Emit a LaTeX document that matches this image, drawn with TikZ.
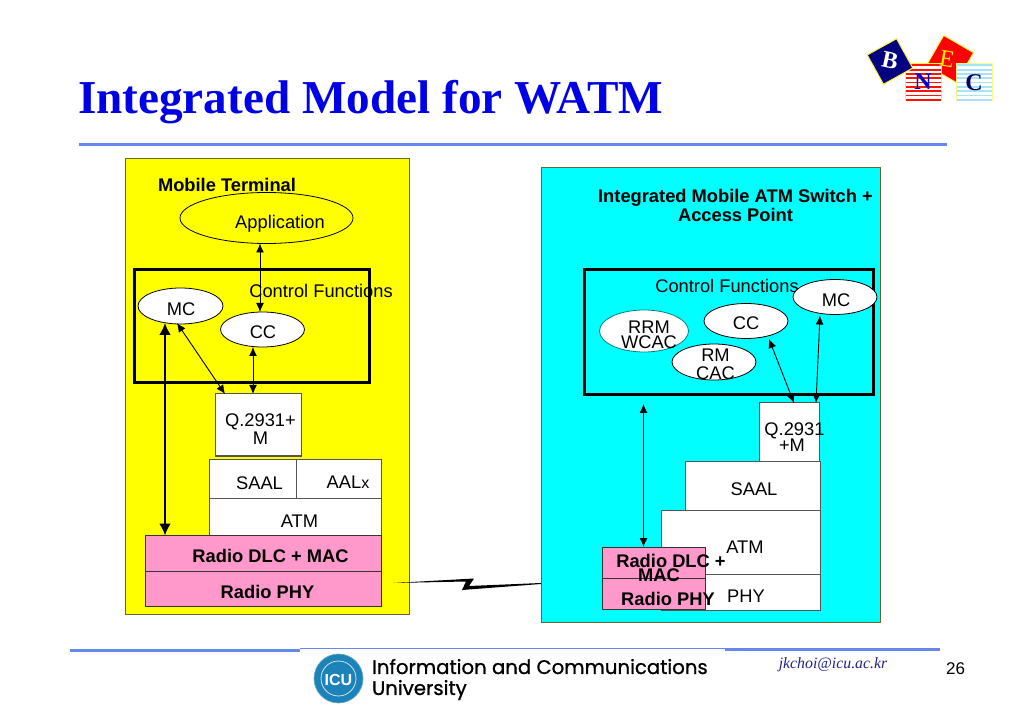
\documentclass[tikz,border=0pt]{standalone}
\usepackage{fontspec}
\setmainfont{Liberation Sans}
\newfontfamily\serifbf{Liberation Serif}
\newfontfamily\univf[FakeBold=1]{Poppins}
\usetikzlibrary{arrows.meta,calc,shapes.geometric}
\definecolor{rulecol}{HTML}{6688EE}
\definecolor{titleblue}{HTML}{0000E6}
\definecolor{pinkc}{HTML}{FF99CC}
\definecolor{cyanc}{HTML}{00FFFF}
\definecolor{yellowc}{HTML}{FFFF00}
\definecolor{framec}{HTML}{666633}
\definecolor{edgec}{HTML}{555555}
\definecolor{icub}{HTML}{1C82B8}
\definecolor{mailc}{HTML}{22228C}
\tikzset{
 every node/.style={inner sep=0pt,outer sep=0pt},
 txt/.style={font=\fontsize{18.3}{18.3}\selectfont,align=center,text=black},
 btxt/.style={font=\fontsize{18.3}{18.3}\selectfont\bfseries,align=center,text=black},
 panel/.style={draw=framec,line width=1pt,anchor=north west},
 ctrl/.style={draw=black,line width=3pt,anchor=north west},
 lay/.style={draw=edgec,fill=white,line width=1pt,anchor=north west},
 rad/.style={draw=black!80,fill=pinkc,line width=1pt,anchor=north west},
 ell/.style={draw=black,fill=white,ellipse,line width=.8pt},
 link/.style={draw=black,line width=.9pt,{Latex[length=9pt,width=8pt]}-{Latex[length=9pt,width=8pt]}},
 fatlink/.style={draw=black,line width=2.8pt,{Latex[length=12pt,width=12pt]}-{Latex[length=12pt,width=12pt]}},
 hr/.style={draw=rulecol,line width=3pt},
 sq/.style={minimum width=36pt,minimum height=37pt,line width=1pt},
 blockl/.style={font=\fontsize{24}{24}\selectfont\bfseries\serifbf},
}
\begin{document}
\begin{tikzpicture}[x=1pt,y=-1pt]
\useasboundingbox[fill=white] (0,0) rectangle (1023,708);
% header
\node[anchor=west,font=\fontsize{47.2}{47.2}\selectfont\bfseries\serifbf,text=titleblue] (title) at (78,102.5) {Integrated Model for WATM};
\coordinate (hl) at (79,145); \coordinate (hr) at (946.5,145);
\draw[hr] (hl) -- (hr);
% BNEC logo
\node[draw=yellow!70!white,fill=red,rotate=-30,minimum size=34.5pt,line width=1pt] (E) at (950,59) {};
\node[sq,draw=yellow!80!white,fill=white] (N) at (923.5,81.7) {};
\foreach \yy in {0,...,8}{\fill[red!85!orange] (906,{64.5+\yy*4.3}) rectangle (941,{66.3+\yy*4.3});}
\node[sq,draw=yellow!50!white,fill=white] (C) at (974.5,81.7) {};
\foreach \yy in {0,...,8}{\fill[cyan!35!white] (957,{64.5+\yy*4.3}) rectangle (992,{66.3+\yy*4.3});}
\node[draw=yellow!80!white,fill=blue!50!black,rotate=29,minimum size=33.5pt,line width=1pt] (B) at (890,61.5) {};
\node[blockl,text=white,rotate=-12] (Bt) at (890,61) {B};
\node[font=\fontsize{24}{24}\selectfont\serifbf,text=yellow,rotate=-10] (Et) at (947,59) {E};
\node[blockl,text=blue!85!black] (Nt) at (923,82) {N};
\node[blockl,text=blue!40!black] (Ct) at (974,83) {C};
% left panel
\node[panel,fill=yellowc,minimum width=284pt,minimum height=456pt] (leftp) at (125.5,158.5) {};
\node[btxt] (mt) at (227,184.5) {Mobile Terminal};
\node[ell,fill=yellowc,minimum width=173pt,minimum height=51pt] (app) at (266.5,218) {};
\node[txt] (appt) at (280,223.5) {Application};
\node[ctrl,minimum width=235pt,minimum height=112.5pt] (cfl) at (134,270) {};
\node[txt] (cflt) at (321,291) {Control Functions};
\node[ell,minimum width=85pt,minimum height=36pt] (mcl) at (180.5,306) {};
\node[txt] (mclt) at (181,309) {MC};
\node[ell,minimum width=84pt,minimum height=35pt] (ccl) at (262.5,329.5) {};
\node[txt] (cclt) at (263,332.5) {CC};
\node[lay,minimum width=86pt,minimum height=62pt] (ql) at (215,394) {};
\node[txt] (qlt) at (260.5,429) {Q.2931+\\[0pt]M};
\node[lay,minimum width=87pt,minimum height=39pt] (saall) at (209,459) {};
\node[txt] (saallt) at (259.5,483.5) {SAAL};
\node[lay,minimum width=85pt,minimum height=39pt] (aal) at (296,459) {};
\node[txt] (aalt) at (348,482) {AAL{\fontsize{16}{16}\selectfont x}};
\node[lay,minimum width=172pt,minimum height=37pt] (atml) at (209,498) {};
\node[txt] (atmlt) at (299.5,521.5) {ATM};
\node[rad,minimum width=236pt,minimum height=36pt] (dlcl) at (145,535.5) {};
\node[btxt] (dlclt) at (270.5,556) {Radio DLC + MAC};
\node[rad,minimum width=236pt,minimum height=35pt] (phyl) at (145,571.5) {};
\node[btxt] (phylt) at (267.5,591.5) {Radio PHY};
% right panel
\node[panel,fill=cyanc,minimum width=339pt,minimum height=454pt] (rightp) at (541.5,168) {};
\node[btxt] (it) at (735.5,205.5) {Integrated Mobile ATM Switch +\\[1pt]Access Point};
\node[ctrl,minimum width=289.5pt,minimum height=125pt] (cfr) at (584,270) {};
\node[txt] (cfrt) at (727,285.5) {Control Functions};
\node[ell,minimum width=84pt,minimum height=35pt] (mcr) at (835,297) {};
\node[txt] (mcrt) at (836,300) {MC};
\node[ell,minimum width=84pt,minimum height=35pt] (ccr) at (746,321) {};
\node[txt] (ccrt) at (746,323) {CC};
\node[ell,draw=teal,minimum width=89pt,minimum height=42pt] (rrm) at (644,331) {};
\node[txt] (rrmt) at (649,335) {RRM\\[-3.5pt]WCAC};
\node[ell,minimum width=84pt,minimum height=36pt] (rm) at (714,362) {};
\node[txt] (rmt) at (715.5,364.5) {RM\\[0pt]CAC};
\node[lay,minimum width=60pt,minimum height=58pt] (qr) at (759.5,403) {};
\node[txt] (qrt) at (794.5,437) {Q.2931\\[-2.5pt]\hspace*{-5pt}+M};
\node[lay,minimum width=135pt,minimum height=49pt] (saalr) at (685,461) {};
\node[txt] (saalrt) at (754,489) {SAAL};
\node[lay,minimum width=159pt,minimum height=64pt] (atmr) at (661,510) {};
\node[txt] (atmrt) at (745,547) {ATM};
\node[lay,minimum width=159pt,minimum height=36pt] (phyr) at (661,574) {};
\node[txt] (phyrt) at (746,596.5) {PHY};
\node[rad,minimum width=103pt,minimum height=31pt] (dlcr) at (602,547) {};
\node[rad,minimum width=103pt,minimum height=31pt] (radr) at (602,578) {};
\node[btxt] (dlcrt) at (671,568) {Radio DLC +\\[-4.3pt]MAC\hspace*{24pt}};
\node[btxt] (radrt) at (668,598.5) {Radio PHY};
% connectors
\draw[link] ($(app.south)+(-6.5,0)$) -- ($(ccl.north)+(-2.5,0)$);
\draw[link] ($(mcl.south)+(-3.5,-1)$) -- ($(ql.north)+(-33,0)$);
\draw[link] ($(ccl.south)+(-9.5,0)$) -- ($(ql.north)+(-5,0)$);
\draw[fatlink] ($(mcl.south)+(-15.5,-1)$) -- ($(dlcl.north west)+(20,0)$);
\draw[link] ($(cfr.south west)+(59.5,9)$) -- ($(dlcr.north west)+(41.5,0)$);
\draw[link] ($(ccr.south)+(23,0.5)$) -- ($(qr.north west)+(34.5,0)$);
\draw[link] ($(mcr.south)+(-15,1)$) -- ($(qr.north west)+(56.5,0)$);
% radio link
\coordinate (zl) at (393,583); \coordinate (zr) at (541,583);
\fill[black] (zl) -- (474,578.5) -- (469,586) -- (zr) -- (541,584) -- (462,590) -- (466,581.5) -- cycle;
% footer
\coordinate (fa) at (70,650); \coordinate (fb) at (300,650); \coordinate (fc) at (725,649); \coordinate (fd) at (940,649);
\coordinate (fb2) at (300,648.5); \coordinate (fc2) at (726,648.5);
\draw[hr] (fa) -- (fb); \draw[rulecol,line width=1.2pt] (fb2) -- (fc2); \draw[hr] (fc) -- (fd);
\node[circle,fill=icub,minimum size=49pt,draw=icub!70!white,line width=.6pt] (icu) at (338.5,678.5) {};
\node[circle,draw=white!80!icub,line width=.8pt,minimum size=35pt] (icu2) at (338.5,678.5) {};
\node[font=\fontsize{16}{16}\selectfont\bfseries,text=white] (icut) at (338.5,680) {ICU};
\node[anchor=west,font=\fontsize{19.7}{21}\selectfont\univf,align=left,text=black] (univ) at (372,679.5) {Information and Communications\\University};
\node[font=\fontsize{15.8}{15.8}\selectfont\itshape\serifbf,text=mailc] (mail) at (833,664.5) {jkchoi@icu.ac.kr};
\node[font=\fontsize{17}{17}\selectfont] (pg) at (955.5,669) {26};
\end{tikzpicture}
\end{document}
